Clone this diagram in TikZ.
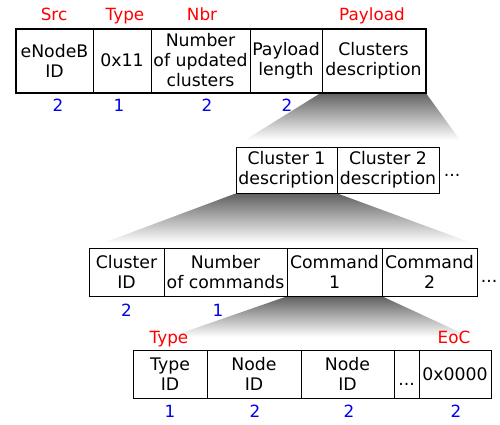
\documentclass[tikz,border=0pt]{standalone}
\usepackage{fontspec}
\setmainfont{DejaVu Sans}
\usetikzlibrary{backgrounds}
\begin{document}
\begin{tikzpicture}[x=1pt,y=-1pt,
  cell/.style={draw=black, line width=1pt, inner sep=0pt, align=center,
    font=\fontsize{17.3}{20}\selectfont},
  lbl/.style={inner sep=0pt, anchor=base, font=\fontsize{16.8}{18}\selectfont},
  redlbl/.style={lbl, text=red},
  bluelbl/.style={lbl, text=blue!92!black},
  dots/.style={inner sep=0pt, anchor=base, font=\fontsize{17.3}{20}\selectfont},
  funnel/.style={top color=black!62, bottom color=white}]
\useasboundingbox (0,0) rectangle (500,424);

% ---------- row 1 ----------
\node[cell, minimum width=77pt, minimum height=63pt] (a1) at (54.5,60.5) {eNodeB\\ID};
\node[cell, minimum width=58pt, minimum height=63pt] (a2) at (122,60.5) {0x11};
\node[cell, minimum width=99pt, minimum height=63pt] (a3) at (200.5,60.5) {Number\\of updated\\clusters};
\node[cell, minimum width=72pt, minimum height=63pt] (a4) at (286,60.5) {Payload\\length};
\node[cell, minimum width=103pt, minimum height=63pt] (a5) at (373.5,60.5) {Clusters\\description};
\draw[line width=2pt] (a1.north west) rectangle (a5.south east);

% ---------- row 2 ----------
\node[cell, minimum width=101pt, minimum height=46pt] (b1) at (286.5,170) {Cluster 1\\description};
\node[cell, minimum width=102pt, minimum height=46pt] (b2) at (388,170) {Cluster 2\\description};
\node[dots] (bdots) at (452,176) {...};

% ---------- row 3 ----------
\node[cell, minimum width=75pt, minimum height=48pt] (c1) at (126.5,272) {Cluster\\ID};
\node[cell, minimum width=123pt, minimum height=48pt] (c2) at (225.5,272) {Number\\of commands};
\node[cell, minimum width=95pt, minimum height=48pt] (c3) at (334.5,272) {Command\\1};
\node[cell, minimum width=95pt, minimum height=48pt] (c4) at (429.5,272) {Command\\2};
\node[dots] (cdots) at (489,282) {...};

% ---------- row 4 ----------
\node[cell, minimum width=74pt, minimum height=48pt] (d1) at (170,374) {Type\\ID};
\node[cell, minimum width=94pt, minimum height=48pt] (d2) at (254,374) {Node\\ID};
\node[cell, minimum width=93pt, minimum height=48pt] (d3) at (347.5,374) {Node\\ID};
\node[cell, minimum width=25pt, minimum height=48pt] (d4) at (406.5,374) {};
\node[dots] (ddots) at (406.5,385) {...};
\node[cell, minimum width=72pt, minimum height=48pt] (d5) at (455,374) {0x0000};

% ---------- funnels (behind) ----------
\coordinate (f1l) at (245,140);
\coordinate (f1r) at (460,140);
\coordinate (f2l) at (103,243);
\coordinate (f2r) at (472,243);
\coordinate (f3l) at (170,337);
\coordinate (f3r) at (470,337);
\begin{pgfonlayer}{background}
\shade[funnel] (a5.south west) -- (a5.south east) -- (f1r) -- (f1l) -- cycle;
\shade[funnel] (b1.south west) -- (b1.south east) -- (f2r) -- (f2l) -- cycle;
\shade[funnel] (c3.south west) -- (c3.south east) -- (f3r) -- (f3l) -- cycle;
\end{pgfonlayer}

% ---------- labels ----------
\node[redlbl] (lsrc) at (54,20) {Src};
\node[redlbl] (ltype) at (125,20) {Type};
\node[redlbl] (lnbr) at (202,20) {Nbr};
\node[redlbl] (lpay) at (372,20) {Payload};

\node[bluelbl] (n1) at (58,111) {2};
\node[bluelbl] (n2) at (119,111) {1};
\node[bluelbl] (n3) at (207,111) {2};
\node[bluelbl] (n4) at (287,111) {2};

\node[bluelbl] (n5) at (126.5,316) {2};
\node[bluelbl] (n6) at (218,316) {1};

\node[redlbl] (ltype2) at (169,343) {Type};
\node[redlbl] (leoc) at (454,343) {EoC};

\node[bluelbl] (n7) at (170,417) {1};
\node[bluelbl] (n8) at (255,417) {2};
\node[bluelbl] (n9) at (349,417) {2};
\node[bluelbl] (n10) at (456,417) {2};
\end{tikzpicture}
\end{document}
